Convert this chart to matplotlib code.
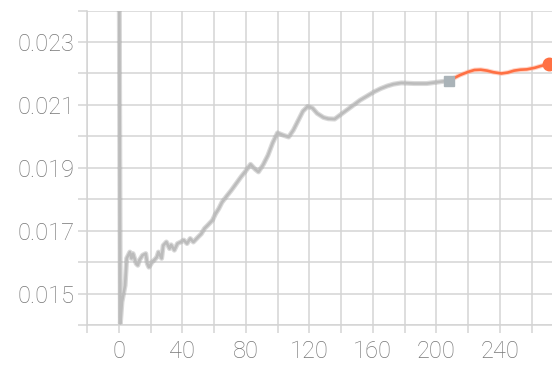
import matplotlib.pyplot as plt
import numpy as np

# gray run, step 0 sits far above the view
gray_steps = [0, 1, 2, 4, 5, 7, 8, 9, 11, 12, 13, 15, 17, 18, 19, 21, 23, 24, 25, 27,
              28, 30, 32, 33, 35, 37, 39, 41, 43, 45, 47, 50, 52, 54, 56, 59, 61, 63,
              65, 68, 71, 74, 77, 80, 83, 86, 88, 91, 94, 97, 100, 104, 107, 110, 113,
              116, 119, 122, 125, 129, 132, 136, 140, 144, 148, 152, 157, 161, 165,
              169, 173, 178, 186, 194, 203, 208]
gray_vals = [0.0300, 0.01405, 0.01473, 0.01526, 0.01612, 0.01632, 0.01612, 0.01627,
             0.01595, 0.01590, 0.01606, 0.01622, 0.01627, 0.01595, 0.01584, 0.01600,
             0.01610, 0.01616, 0.01632, 0.01612, 0.01653, 0.01664, 0.01643, 0.01655,
             0.01638, 0.01659, 0.01664, 0.01670, 0.01659, 0.01675, 0.01664, 0.01680,
             0.01690, 0.01707, 0.01717, 0.01733, 0.01754, 0.01770, 0.01790, 0.01810,
             0.01829, 0.01850, 0.01871, 0.01890, 0.01911, 0.01895, 0.01887, 0.01910,
             0.01940, 0.01980, 0.02011, 0.02003, 0.01998, 0.02020, 0.02050, 0.02080,
             0.02095, 0.02090, 0.02073, 0.02060, 0.02056, 0.02055, 0.02070, 0.02085,
             0.02100, 0.02115, 0.02130, 0.02142, 0.02152, 0.02160, 0.02166, 0.02170,
             0.02168, 0.02168, 0.02174, 0.02177]

# orange run
orange_steps = [208, 215, 220, 224, 228, 232, 236, 241, 245, 249, 253, 257, 262, 266, 271]
orange_vals = [0.02177, 0.02195, 0.02205, 0.02211, 0.02212, 0.02209, 0.02204, 0.02200,
               0.02203, 0.02209, 0.02212, 0.02213, 0.02218, 0.02224, 0.02230]

x_ticks = list(range(-20, 280, 20))
y_ticks = [0.014, 0.015, 0.016, 0.017, 0.018, 0.019, 0.020, 0.021, 0.022, 0.023, 0.024]

plt.rcParams['font.family'] = ['Roboto', 'DejaVu Sans']

fig = plt.figure(figsize=(5.52, 3.67), dpi=100)
ax = fig.add_axes([87 / 552, 42 / 367, 1 - 87 / 552, (325 - 10.6) / 367])

grid_c = '#d4d4d4'

# faint raw-ish halo, then the solid line
ax.plot(gray_steps, gray_vals, color='#a0a0a0', lw=3.6, alpha=0.4, solid_joinstyle='round', zorder=2)
ax.plot(gray_steps, gray_vals, color='#bcbcbc', lw=1.9, solid_joinstyle='round', zorder=3)
ax.plot(orange_steps, orange_vals, color='#ffab91', lw=3.4, alpha=0.5, zorder=2)
ax.plot(orange_steps, orange_vals, color='#ff7043', lw=1.9, zorder=3)

ax.plot(gray_steps[-1], gray_vals[-1], marker='s', ms=7.5, color='#aab3b8', zorder=4)
ax.plot(orange_steps[-1], orange_vals[-1], marker='o', ms=9, color='#ff7043', zorder=4,
        clip_on=False)

ax.set_xlim(-20, 272.9)
ax.set_ylim(0.014, 0.024)

ax.set_xticks(x_ticks)
ax.set_xticklabels([str(t) if t % 40 == 0 and t >= 0 else '' for t in x_ticks])
ax.set_yticks(y_ticks)
ax.set_yticklabels(['%.3f' % t if round(t * 1000) % 2 == 1 else '' for t in y_ticks])

ax.grid(True, color=grid_c, lw=1.1)
ax.set_axisbelow(True)
for s in ['top', 'right']:
    ax.spines[s].set_visible(False)
for s in ['left', 'bottom']:
    ax.spines[s].set_color(grid_c)
    ax.spines[s].set_linewidth(1.1)

ax.tick_params(axis='x', length=6, width=1.1, color=grid_c, labelcolor='#777777',
               labelsize=17, pad=5)
ax.tick_params(axis='y', length=6.5, width=1.1, color=grid_c, labelcolor='#777777',
               labelsize=17, pad=2.5)
for lab in ax.get_xticklabels() + ax.get_yticklabels():
    lab.set_fontweight('light')

fig.savefig('out.png', dpi=100)
